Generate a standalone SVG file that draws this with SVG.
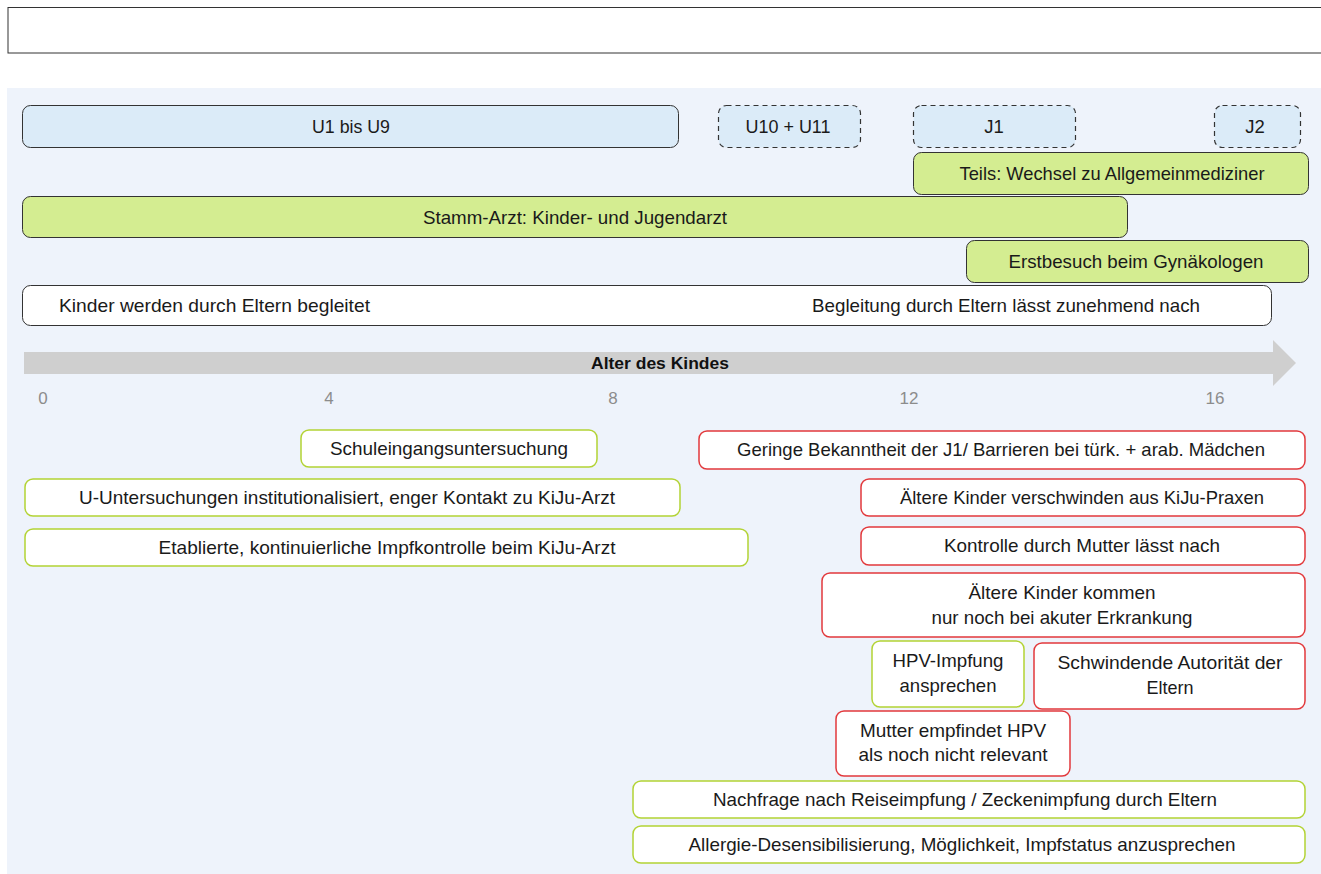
<svg xmlns="http://www.w3.org/2000/svg" width="1321" height="874" viewBox="0 0 1321 874">
<style>
text{font-family:"Liberation Sans",Arial,sans-serif;font-size:18.5px;fill:#1a1a1a;text-anchor:middle}
.u{fill:#dbebf8;stroke:#333;stroke-width:1}
.ud{fill:#dbebf8;stroke:#333;stroke-width:1.2;stroke-dasharray:5,4}
.g{fill:#d4ed91;stroke:#333;stroke-width:1}
.w{fill:#fff;stroke:#333;stroke-width:1}
.pg{fill:#fff;stroke:#b3d335;stroke-width:1.5}
.pr{fill:#fff;stroke:#e2393c;stroke-width:1.5}
.tick{fill:#8c8c8c;font-size:17px}
.ax{font-weight:bold;fill:#111;font-size:17px}
</style>
<rect x="8" y="7.5" width="1330" height="45.5" fill="#fff" stroke="#333" stroke-width="1"/>
<rect x="7" y="88" width="1320" height="790" fill="#eef3fb"/>

<g id="u1u9"><rect class="u" x="22.5" y="105.5" width="656" height="42" rx="8"/><text x="351" y="133" textLength="78" lengthAdjust="spacingAndGlyphs">U1 bis U9</text></g>
<g id="u10u11"><rect class="ud" x="718.5" y="105.5" width="142" height="42" rx="8"/><text x="788" y="133" textLength="85" lengthAdjust="spacingAndGlyphs">U10 + U11</text></g>
<g id="j1"><rect class="ud" x="913.5" y="105.5" width="162" height="42" rx="8"/><text x="994" y="133">J1</text></g>
<g id="j2"><rect class="ud" x="1214.5" y="105.5" width="86" height="42" rx="8"/><text x="1255" y="133">J2</text></g>
<g id="teils"><rect class="g" x="913.5" y="152.5" width="395" height="42" rx="8"/><text x="1112" y="180" textLength="305" lengthAdjust="spacingAndGlyphs">Teils: Wechsel zu Allgemeinmediziner</text></g>
<g id="stamm"><rect class="g" x="22.5" y="196.5" width="1105" height="41" rx="8"/><text x="575" y="223.5" textLength="304" lengthAdjust="spacingAndGlyphs">Stamm-Arzt: Kinder- und Jugendarzt</text></g>
<g id="gyn"><rect class="g" x="966.5" y="240.5" width="342" height="42" rx="8"/><text x="1136" y="268" textLength="255" lengthAdjust="spacingAndGlyphs">Erstbesuch beim Gynäkologen</text></g>
<g id="begleit"><rect class="w" x="22.5" y="285.5" width="1249" height="40" rx="8"/><text x="59" y="312" style="text-anchor:start" textLength="311" lengthAdjust="spacingAndGlyphs">Kinder werden durch Eltern begleitet</text><text x="1006" y="312" textLength="388" lengthAdjust="spacingAndGlyphs">Begleitung durch Eltern lässt zunehmend nach</text></g>

<g id="axis">
<polygon points="24,352 1273,352 1273,340 1296,363 1273,386 1273,374 24,374" fill="#cfcfcf"/>
<text class="ax" x="660" y="369" textLength="138" lengthAdjust="spacingAndGlyphs">Alter des Kindes</text>
<text class="tick" x="43" y="404">0</text>
<text class="tick" x="329" y="404">4</text>
<text class="tick" x="613" y="404">8</text>
<text class="tick" x="909" y="404">12</text>
<text class="tick" x="1215" y="404">16</text>
</g>

<g id="schul"><rect class="pg" x="301" y="430" width="296" height="37" rx="8"/><text x="449" y="455" textLength="238" lengthAdjust="spacingAndGlyphs">Schuleingangsuntersuchung</text></g>
<g id="uunt"><rect class="pg" x="25" y="479" width="655" height="37" rx="8"/><text x="347" y="504" textLength="536" lengthAdjust="spacingAndGlyphs">U-Untersuchungen institutionalisiert, enger Kontakt zu KiJu-Arzt</text></g>
<g id="etab"><rect class="pg" x="25" y="529" width="723" height="37" rx="8"/><text x="387" y="554" textLength="457" lengthAdjust="spacingAndGlyphs">Etablierte, kontinuierliche Impfkontrolle beim KiJu-Arzt</text></g>
<g id="geringe"><rect class="pr" x="699" y="431" width="606" height="38" rx="8"/><text x="1001" y="456" textLength="528" lengthAdjust="spacingAndGlyphs">Geringe Bekanntheit der J1/ Barrieren bei türk. + arab. Mädchen</text></g>
<g id="verschw"><rect class="pr" x="861" y="479" width="444" height="37" rx="8"/><text x="1082" y="504" textLength="364" lengthAdjust="spacingAndGlyphs">Ältere Kinder verschwinden aus KiJu-Praxen</text></g>
<g id="kontrolle"><rect class="pr" x="861" y="527" width="444" height="38" rx="8"/><text x="1082" y="552" textLength="276" lengthAdjust="spacingAndGlyphs">Kontrolle durch Mutter lässt nach</text></g>
<g id="kommen"><rect class="pr" x="822" y="573" width="483" height="64" rx="8"/><text x="1062" y="599" textLength="187" lengthAdjust="spacingAndGlyphs">Ältere Kinder kommen</text><text x="1062" y="624" textLength="261" lengthAdjust="spacingAndGlyphs">nur noch bei akuter Erkrankung</text></g>
<g id="hpv"><rect class="pg" x="872" y="641" width="152" height="66" rx="8"/><text x="948" y="667" textLength="111" lengthAdjust="spacingAndGlyphs">HPV-Impfung</text><text x="948" y="692" textLength="97" lengthAdjust="spacingAndGlyphs">ansprechen</text></g>
<g id="autor"><rect class="pr" x="1034" y="643" width="271" height="66" rx="8"/><text x="1170" y="669" textLength="225" lengthAdjust="spacingAndGlyphs">Schwindende Autorität der</text><text x="1170" y="694" textLength="47" lengthAdjust="spacingAndGlyphs">Eltern</text></g>
<g id="mutter"><rect class="pr" x="836" y="711" width="234" height="65" rx="8"/><text x="953" y="737" textLength="186" lengthAdjust="spacingAndGlyphs">Mutter empfindet HPV</text><text x="953" y="761" textLength="189" lengthAdjust="spacingAndGlyphs">als noch nicht relevant</text></g>
<g id="reise"><rect class="pg" x="633" y="781" width="672" height="37" rx="8"/><text x="965" y="806" textLength="504" lengthAdjust="spacingAndGlyphs">Nachfrage nach Reiseimpfung / Zeckenimpfung durch Eltern</text></g>
<g id="allergie"><rect class="pg" x="633" y="826" width="672" height="37" rx="8"/><text x="962" y="851" textLength="547" lengthAdjust="spacingAndGlyphs">Allergie-Desensibilisierung, Möglichkeit, Impfstatus anzusprechen</text></g>
<g id="connectors"></g>
</svg>
